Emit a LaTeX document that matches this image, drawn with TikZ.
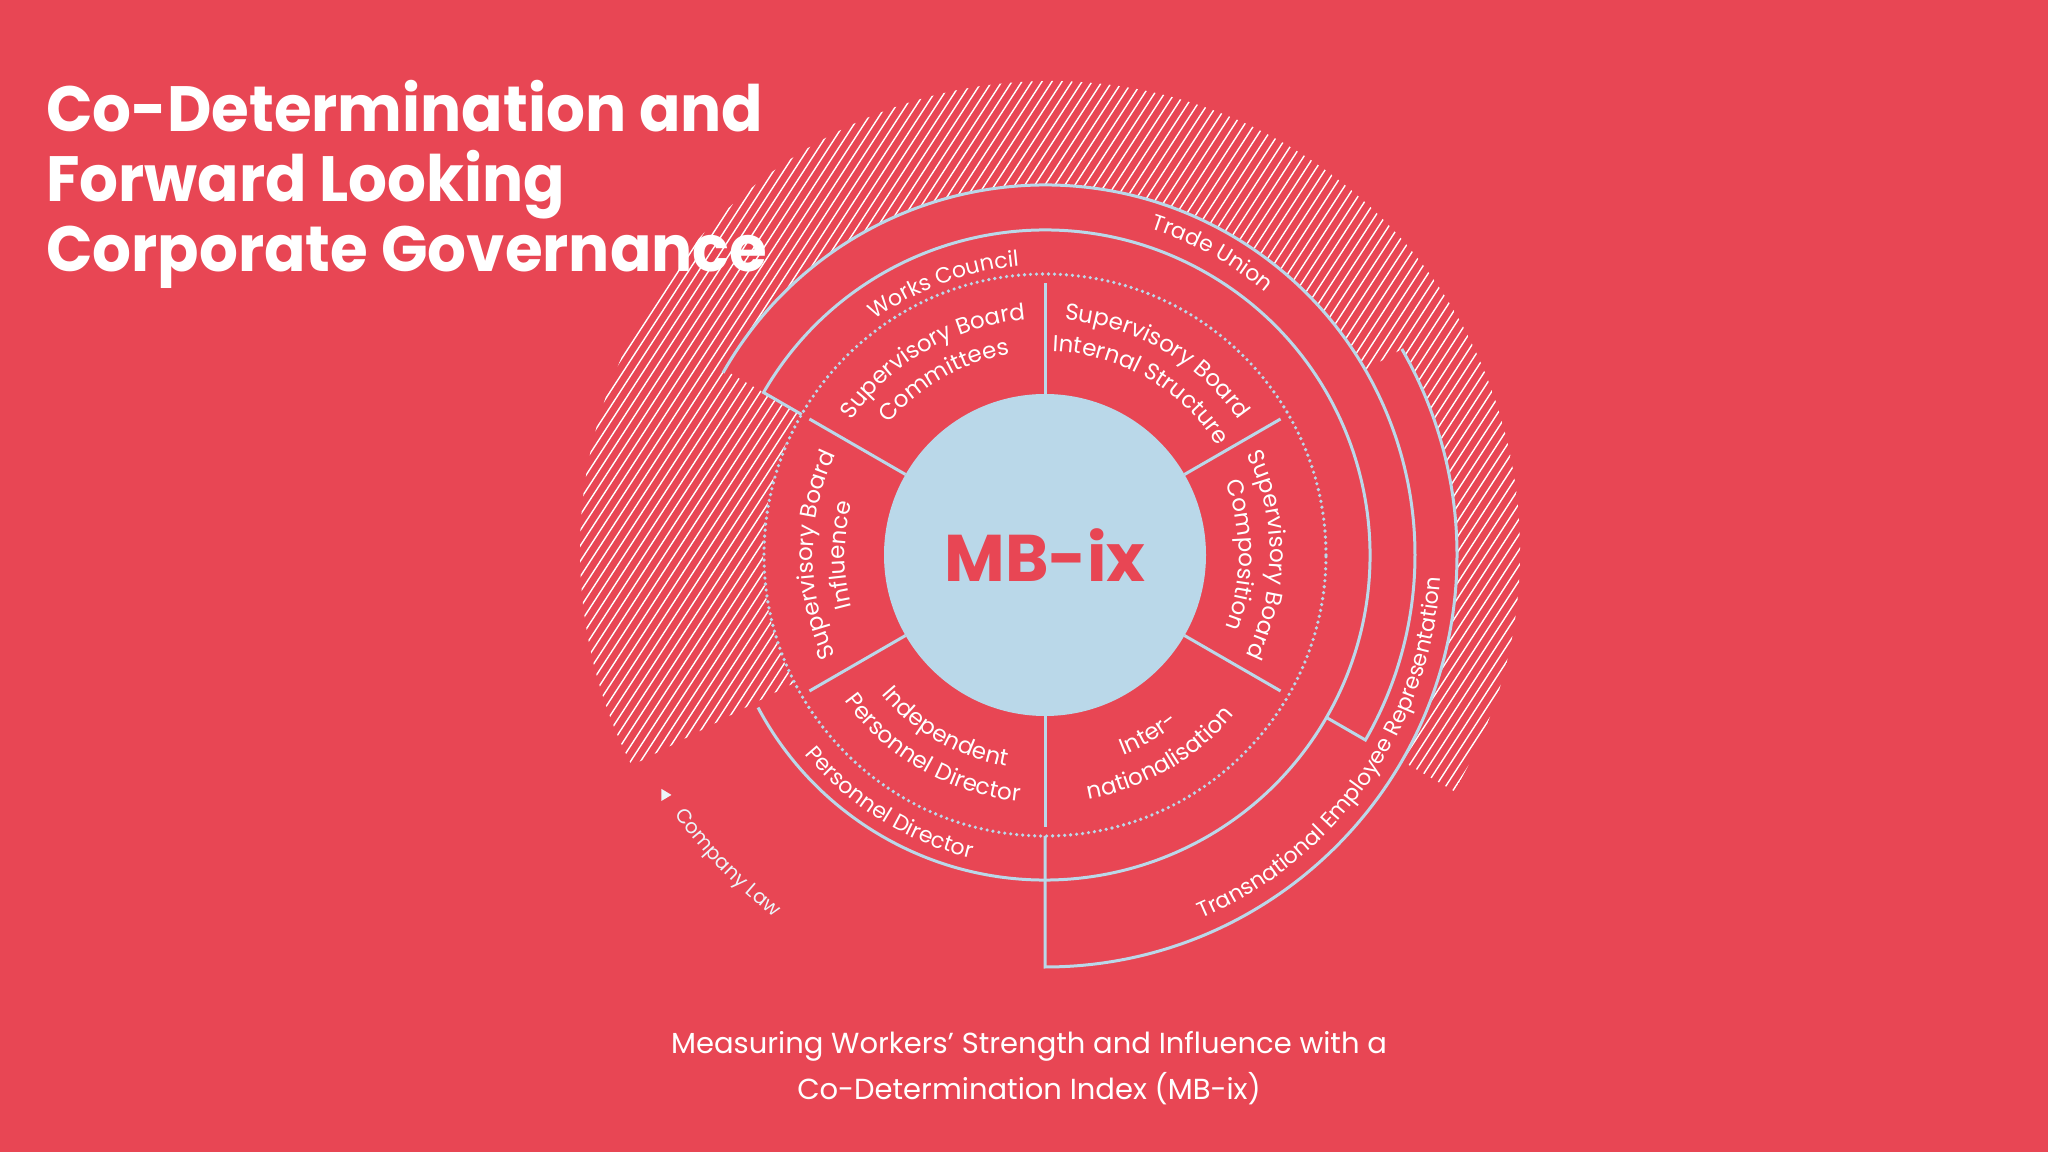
\documentclass[tikz,border=0pt]{standalone}
\usepackage{fontspec}
\setmainfont{Poppins}
\usetikzlibrary{decorations.text}
\definecolor{bgred}{RGB}{232,70,84}
\definecolor{lblue}{RGB}{186,216,233}
\definecolor{paleblue}{RGB}{236,244,249}
\newcommand{\lblfont}{\fontsize{23}{23}\selectfont}
\newcommand{\smallfont}{\fontsize{22}{22}\selectfont}
\newcommand{\lawfont}{\fontsize{20}{20}\selectfont}
\newcommand{\ttl}[1]{\scalebox{0.955}[1]{#1}}
\tikzset{
  ring/.style={draw=lblue, line width=3pt},
  hatchline/.style={draw=white, line width=1.4pt},
  curvelabel/.style={decorate, decoration={text along path, text align=center, text color=white, text={|\lblfont|#1}}},
  outerlabel/.style={decorate, decoration={text along path, text align=center, text color=white, text={|\smallfont|#1}}},
  titletext/.style={anchor=base west, text=white, inner sep=0pt, font=\fontsize{64}{64}\selectfont\bfseries},
  subtext/.style={anchor=base, text=white, font=\fontsize{29}{29}\selectfont},
}
\begin{document}
\begin{tikzpicture}[x=1pt,y=1pt]
\fill[bgred] (0,0) rectangle (2048,1152);
\useasboundingbox (0,0) rectangle (2048,1152);
\begin{scope}[shift={(1045,597)}]
  % hatched Company Law band
  \begin{scope}
    \clip (5,4) circle[radius=470];
    \clip (-30:520) arc[start angle=-30,end angle=207,radius=520] -- (207:282)
      arc[start angle=207,end angle=150,radius=282] -- (150:370)
      arc[start angle=150,end angle=30,radius=370] -- (30:412)
      arc[start angle=30,end angle=-30,radius=412] -- cycle;
    \begin{scope}[rotate=57]
      \foreach \k in {-60,...,60} \draw[hatchline] (-500,\k*8.4) -- (500,\k*8.4);
    \end{scope}
  \end{scope}
  % centre disc and sectors
  \fill[lblue] (0,0) circle[radius=161];
  \node[font=\fontsize{66}{66}\selectfont\bfseries, text=bgred] (mbix) at (0,0) {MB-ix};
  \foreach \a in {30,90,...,330} \draw[ring] (\a:161) -- (\a:272);
  \draw[lblue, line width=3.6pt, line cap=round, dash pattern=on 0pt off 6pt] (0,0) circle[radius=281];
  % rings
  \draw[ring] (150:281) -- (150:325) arc[start angle=150,end angle=-152,radius=325];
  \draw[ring] (150.5:370) arc[start angle=150.5,end angle=-30,radius=370] -- (-30:325);
  \draw[ring] (-90:281) -- (-90:412) arc[start angle=-90,end angle=30,radius=412];
  % sector labels
  \path[curvelabel={Supervisory Board}] (150:236) arc[start angle=150,end angle=90,radius=236];
  \path[curvelabel={Committees}] (150:204) arc[start angle=150,end angle=90,radius=204];
  \path[curvelabel={Supervisory Board}] (90:236) arc[start angle=90,end angle=30,radius=236];
  \path[curvelabel={Internal Structure}] (90:204) arc[start angle=90,end angle=30,radius=204];
  \path[curvelabel={Supervisory Board}] (30:225) arc[start angle=30,end angle=-30,radius=225];
  \path[curvelabel={Composition}] (30:194) arc[start angle=30,end angle=-30,radius=194];
  \path[curvelabel={Supervisory Board}] (210:232) arc[start angle=210,end angle=150,radius=232];
  \path[curvelabel={Influence}] (210:200) arc[start angle=210,end angle=150,radius=200];
  \path[curvelabel={Independent}] (210:215) arc[start angle=210,end angle=270,radius=215];
  \path[curvelabel={Personnel Director}] (210:248) arc[start angle=210,end angle=270,radius=248];
  \path[curvelabel={Inter-}] (270:215) arc[start angle=270,end angle=330,radius=215];
  \path[curvelabel={nationalisation}] (270:248) arc[start angle=270,end angle=330,radius=248];
  % ring labels
  \path[outerlabel={Works Council}] (150:290) arc[start angle=150,end angle=71,radius=290];
  \path[outerlabel={Trade Union}] (100:343) arc[start angle=100,end angle=22,radius=343];
  \path[outerlabel={Personnel Director}] (208:312) arc[start angle=208,end angle=268,radius=312];
  \path[outerlabel={Transnational Employee Representation}] (-80:396) arc[start angle=-80,end angle=10,radius=396];
  % company law
  \coordinate (tri) at (212.3:449);
  \fill[paleblue] (tri) ++(-4,6) -- ++(0,-12) -- ++(10,6) -- cycle;
  \path[decorate, decoration={text along path, text align=left, text color=paleblue, text={|\lawfont|Company Law}}] (215:452) arc[start angle=215,end angle=270,radius=452];
\end{scope}
% title
\node[titletext] (t1) at (46,1020) {\ttl{Co-Determination and}};
\node[titletext] (t2) at (46,950) {\ttl{Forward Looking}};
\node[titletext] (t3) at (46,880) {\ttl{Corporate Governance}};
% subtitle
\node[subtext] (s1) at (1029,99) {Measuring Workers’ Strength and Influence with a};
\node[subtext] (s2) at (1029,53) {Co-Determination Index (MB-ix)};
\end{tikzpicture}
\end{document}
